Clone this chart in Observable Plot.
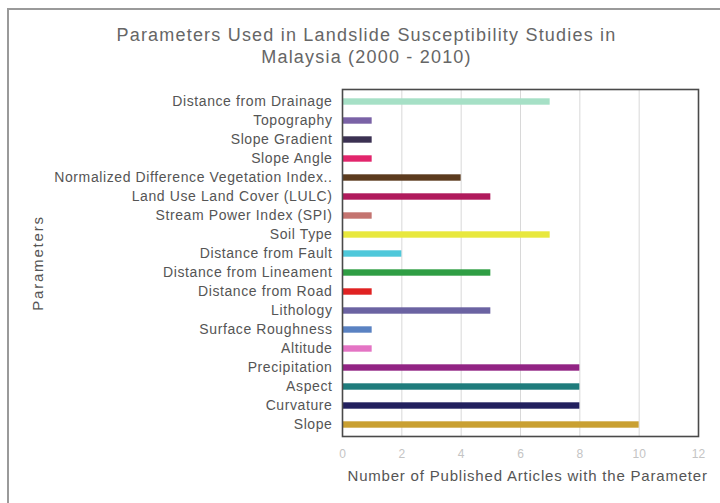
<!DOCTYPE html>
<html>
<head>
<meta charset="utf-8">
<script src="https://cdn.jsdelivr.net/npm/d3@7"></script>
<script src="https://cdn.jsdelivr.net/npm/@observablehq/plot@0.6"></script>
<style>
  html, body { margin: 0; padding: 0; background: #fff; }
  #wrap { position: relative; width: 720px; height: 503px; overflow: hidden; }
  #edge { position: absolute; left: 7px; top: 8px; right: -4px; bottom: -4px;
          border-top: 2px solid #9a9a9a; border-left: 2px solid #9a9a9a; pointer-events: none; }
  svg { font-family: "Liberation Sans", Arial, sans-serif; }
</style>
</head>
<body>
<div id="wrap"><div id="edge"></div></div>
<script>
// Parameters, listed top to bottom
const parameters = [
  "Distance from Drainage", "Topography", "Slope Gradient", "Slope Angle",
  "Normalized Difference Vegetation Index..", "Land Use Land Cover (LULC)",
  "Stream Power Index (SPI)", "Soil Type", "Distance from Fault",
  "Distance from Lineament", "Distance from Road", "Lithology",
  "Surface Roughness", "Altitude", "Precipitation", "Aspect", "Curvature", "Slope"
];
// Number of published articles using each parameter
const articles = [7, 1, 1, 1, 4, 5, 1, 7, 2, 5, 1, 5, 1, 1, 8, 8, 8, 10];
// Bar colour of each parameter
const barColors = [
  "#a6e0c6", "#7a62a6", "#3b3152", "#e2256c", "#5c3b1e", "#b01a5c",
  "#c47470", "#e8e83e", "#4fc8da", "#2f9e44", "#e02222", "#6b63a2",
  "#5a82c2", "#e474c4", "#922484", "#1f7c7c", "#22205e", "#c9a032"
];
const xTicks = [0, 2, 4, 6, 8, 10, 12];
const titleLines = ["Parameters Used in Landslide Susceptibility Studies in", "Malaysia (2000 - 2010)"];
const xTitle = "Number of Published Articles with the Parameter";
const yTitle = "Parameters";

const rows = parameters.map((p, i) => ({parameter: p, count: articles[i], color: barColors[i]}));

const chart = Plot.plot({
  width: 720,
  height: 503,
  marginLeft: 342,
  marginRight: 22,
  marginTop: 89,
  marginBottom: 67,
  style: {fontFamily: "Liberation Sans, Arial, sans-serif", background: "transparent"},
  x: {domain: [0, 12], ticks: xTicks, label: null},
  y: {domain: parameters, padding: 0, label: null},
  marks: [
    Plot.gridX(xTicks.filter(t => t > 0 && t < 12), {stroke: "#d8d8d8", strokeOpacity: 1, strokeWidth: 1}),
    Plot.barX(rows, {x: "count", y: "parameter", fill: "color", insetTop: 6.3, insetBottom: 6.3}),
    Plot.frame({stroke: "#4a4a4a", strokeWidth: 1.6}),
    Plot.axisX(xTicks, {tickSize: 0, tickPadding: 13, fontSize: 12, fill: "#c4c4c4", label: null}),
    Plot.axisY({tickSize: 0, tickPadding: 10, fontSize: 14, fill: "#555", label: null}),
    // chart title, two centred lines
    Plot.text(titleLines, {
      frameAnchor: "top-left", text: d => d, fontSize: 18, fill: "#666",
      textAnchor: "middle", lineAnchor: "middle"
    }),
    // x-axis title
    Plot.text([xTitle], {
      frameAnchor: "bottom-left", dx: 5, dy: 40, text: d => d,
      fontSize: 15, fill: "#555", textAnchor: "start", lineAnchor: "middle"
    }),
    // y-axis title
    Plot.text([yTitle], {
      frameAnchor: "left", dx: -304, rotate: -90, text: d => d,
      fontSize: 15, fill: "#555", textAnchor: "middle", lineAnchor: "middle"
    })
  ]
});
document.getElementById("wrap").prepend(chart);

const svg = d3.select(chart);
// wide letter spacing of the labels
svg.selectAll("g[aria-label='y-axis tick label'] text").style("letter-spacing", "0.6px");
svg.selectAll("text").filter(function () { return this.textContent === xTitle; })
  .style("letter-spacing", "0.8px");
svg.selectAll("text").filter(function () { return this.textContent === yTitle; })
  .style("letter-spacing", "1.8px");
// place the two title lines above the frame
svg.selectAll("text").filter(function () {
  return titleLines.includes(this.textContent);
}).style("letter-spacing", "1.2px").attr("transform", function () {
  const i = titleLines.indexOf(this.textContent);
  return `translate(${366},${35 + i * 22})`;
});
</script>
</body>
</html>
